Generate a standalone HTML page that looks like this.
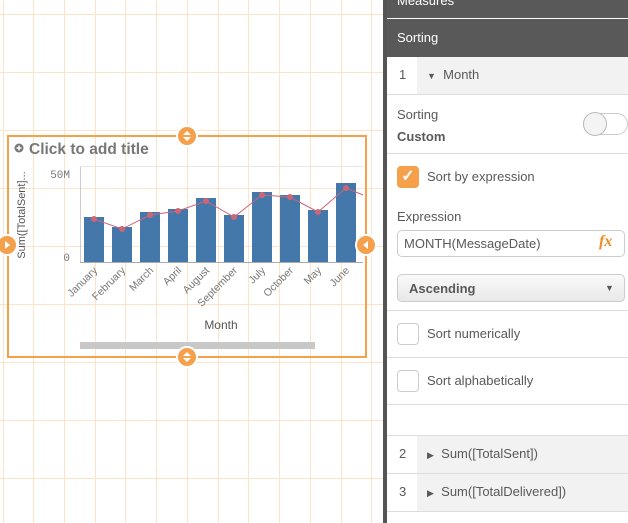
<!DOCTYPE html>
<html><head><style>
body{margin:0;width:628px;height:523px;overflow:hidden;font-family:"Liberation Sans",sans-serif;background:#fff;position:relative}
.a{position:absolute}
</style></head><body>
<svg class="a" style="left:0;top:0" width="383" height="523">
<g stroke="#fde3c8" stroke-width="1">
<line x1="3.5" y1="0" x2="3.5" y2="523"/><line x1="33.5" y1="0" x2="33.5" y2="523"/><line x1="64.5" y1="0" x2="64.5" y2="523"/><line x1="95.5" y1="0" x2="95.5" y2="523"/><line x1="125.5" y1="0" x2="125.5" y2="523"/><line x1="156.5" y1="0" x2="156.5" y2="523"/><line x1="187.5" y1="0" x2="187.5" y2="523"/><line x1="218.5" y1="0" x2="218.5" y2="523"/><line x1="248.5" y1="0" x2="248.5" y2="523"/><line x1="279.5" y1="0" x2="279.5" y2="523"/><line x1="310.5" y1="0" x2="310.5" y2="523"/><line x1="341.5" y1="0" x2="341.5" y2="523"/><line x1="371.5" y1="0" x2="371.5" y2="523"/>
<line x1="0" y1="14.5" x2="383" y2="14.5"/><line x1="0" y1="72.5" x2="383" y2="72.5"/><line x1="0" y1="130.5" x2="383" y2="130.5"/><line x1="0" y1="188.5" x2="383" y2="188.5"/><line x1="0" y1="246.5" x2="383" y2="246.5"/><line x1="0" y1="304.5" x2="383" y2="304.5"/><line x1="0" y1="362.5" x2="383" y2="362.5"/><line x1="0" y1="420.5" x2="383" y2="420.5"/><line x1="0" y1="478.5" x2="383" y2="478.5"/>
</g>
<rect x="8" y="136" width="358" height="221" fill="none" stroke="#f5a04a" stroke-width="2"/>
<circle cx="19" cy="148" r="4.5" fill="#777"/><path d="M16.5 148h5M19 145.5v5" stroke="#fff" stroke-width="1.5"/>
<text x="29" y="154" font-size="15.5" font-weight="bold" fill="#777">Click to add title</text>
<line x1="80.5" y1="166" x2="80.5" y2="262" stroke="#ccc"/>
<line x1="80" y1="166.5" x2="363" y2="166.5" stroke="#e8e8e8"/>
<line x1="80" y1="262.5" x2="363" y2="262.5" stroke="#aaa"/>
<text x="70" y="178" font-size="11" fill="#777" text-anchor="end" font-family="Liberation Mono">50M</text>
<text x="70" y="261" font-size="11" fill="#777" text-anchor="end" font-family="Liberation Mono">0</text>
<text transform="translate(25,215) rotate(-90)" font-size="11" fill="#555" text-anchor="middle">Sum([TotalSent]...</text>
<g fill="#4477aa">
<rect x="84" y="217" width="20" height="45"/><rect x="112" y="227" width="20" height="35"/><rect x="140" y="212" width="20" height="50"/><rect x="168" y="209" width="20" height="53"/><rect x="196" y="198" width="20" height="64"/><rect x="224" y="215" width="20" height="47"/><rect x="252" y="192" width="20" height="70"/><rect x="280" y="195" width="20" height="67"/><rect x="308" y="210" width="20" height="52"/><rect x="336" y="183" width="20" height="79"/>
</g>
<polyline points="94,219 122,229 150,215 178,211 206,201 234,217 262,195 290,197 318,212 346,188 363,195" fill="none" stroke="#cc6677" stroke-width="1"/>
<g fill="#cc6677"><circle cx="94" cy="219" r="3"/><circle cx="122" cy="229" r="3"/><circle cx="150" cy="215" r="3"/><circle cx="178" cy="211" r="3"/><circle cx="206" cy="201" r="3"/><circle cx="234" cy="217" r="3"/><circle cx="262" cy="195" r="3"/><circle cx="290" cy="197" r="3"/><circle cx="318" cy="212" r="3"/><circle cx="346" cy="188" r="3"/></g>
<g font-size="10.5" fill="#777" text-anchor="end">
<text transform="translate(98,271) rotate(-45)">January</text>
<text transform="translate(126,271) rotate(-45)">February</text>
<text transform="translate(154,271) rotate(-45)">March</text>
<text transform="translate(182,271) rotate(-45)">April</text>
<text transform="translate(210,271) rotate(-45)">August</text>
<text transform="translate(238,271) rotate(-45)">September</text>
<text transform="translate(266,271) rotate(-45)">July</text>
<text transform="translate(294,271) rotate(-45)">October</text>
<text transform="translate(322,271) rotate(-45)">May</text>
<text transform="translate(350,271) rotate(-45)">June</text>
</g>
<text x="221" y="329" font-size="12" fill="#555" text-anchor="middle">Month</text>
<rect x="80" y="342" width="235" height="7" fill="#c8c8c8"/>
<g fill="#f5a04a" stroke="#fff" stroke-width="2">
<circle cx="187" cy="136" r="10"/><circle cx="187" cy="357" r="10"/><circle cx="7" cy="245" r="10"/><circle cx="366" cy="245" r="10"/></g>
<g fill="#fff"><path d="M183 135l4-4 4 4zM183 137l4 4 4-4z"/><path d="M183 356l4-4 4 4zM183 358l4 4 4-4z"/><path d="M5 241l5 4-5 4z"/><path d="M368 241l-5 4 5 4z"/></g>
</svg>
<div class="a" style="left:383px;top:0;width:4px;height:523px;background:#555"></div>
<div class="a" style="left:387px;top:0;width:241px;height:523px;background:#fff;color:#595959;font-size:13px">
<div class="a" style="left:0;top:0;width:241px;height:18px;background:#595959;color:#fff"><span class="a" style="left:10px;top:-7px">Measures</span></div>
<div class="a" style="left:0;top:19px;width:241px;height:38px;background:#595959;color:#fff"><span class="a" style="left:10px;top:11px">Sorting</span></div>
<div class="a" style="left:30px;top:57px;width:211px;height:37px;background:#f2f2f2"></div>
<span class="a" style="left:12px;top:67px">1</span>
<span class="a" style="left:40px;top:67px"><span style="font-size:9px">▼</span>&nbsp; Month</span>
<div class="a" style="left:0;top:94px;width:241px;height:1px;background:#ddd"></div>
<span class="a" style="left:10px;top:107px">Sorting</span>
<span class="a" style="left:10px;top:129px;font-weight:bold">Custom</span>
<div class="a" style="left:196px;top:113px;width:45px;height:22px;border:1px solid #ccc;border-radius:12px;box-sizing:border-box"></div>
<div class="a" style="left:196px;top:112px;width:24px;height:24px;border-radius:50%;background:#f4f4f4;border:1px solid #bbb;box-sizing:border-box"></div>
<div class="a" style="left:0;top:153px;width:241px;height:1px;background:#ddd"></div>
<div class="a" style="left:10px;top:166px;width:22px;height:22px;border-radius:4px;background:#f5a04a;color:#fff;font-size:16px;line-height:22px;text-align:center;font-weight:bold">✓</div>
<span class="a" style="left:40px;top:169px">Sort by expression</span>
<span class="a" style="left:10px;top:209px">Expression</span>
<div class="a" style="left:10px;top:230px;width:228px;height:27px;border:1px solid #ccc;border-radius:5px;box-sizing:border-box"></div>
<span class="a" style="left:17px;top:236px">MONTH(MessageDate)</span>
<span class="a" style="left:212px;top:233px;color:#f08a24;font:italic bold 16px 'Liberation Serif',serif">fx</span>
<div class="a" style="left:10px;top:274px;width:228px;height:28px;border:1px solid #ccc;border-radius:5px;box-sizing:border-box;background:linear-gradient(#fafafa,#e8e8e8)"></div>
<span class="a" style="left:22px;top:281px;font-weight:bold">Ascending</span>
<span class="a" style="left:218px;top:283px;font-size:9px">▼</span>
<div class="a" style="left:0;top:310px;width:241px;height:1px;background:#ddd"></div>
<div class="a" style="left:10px;top:323px;width:22px;height:22px;border:1px solid #ccc;border-radius:4px;box-sizing:border-box"></div>
<span class="a" style="left:40px;top:326px">Sort numerically</span>
<div class="a" style="left:0;top:357px;width:241px;height:1px;background:#ddd"></div>
<div class="a" style="left:10px;top:370px;width:22px;height:22px;border:1px solid #ccc;border-radius:4px;box-sizing:border-box"></div>
<span class="a" style="left:40px;top:373px">Sort alphabetically</span>
<div class="a" style="left:0;top:404px;width:241px;height:1px;background:#ddd"></div>
<div class="a" style="left:0;top:435px;width:241px;height:1px;background:#ddd"></div>
<div class="a" style="left:30px;top:436px;width:211px;height:75px;background:#f2f2f2"></div>
<div class="a" style="left:0;top:473px;width:241px;height:1px;background:#ddd"></div>
<div class="a" style="left:0;top:511px;width:241px;height:1px;background:#ddd"></div>
<span class="a" style="left:12px;top:446px">2</span>
<span class="a" style="left:40px;top:446px"><span style="font-size:9px">▶</span>&nbsp; Sum([TotalSent])</span>
<span class="a" style="left:12px;top:484px">3</span>
<span class="a" style="left:40px;top:484px"><span style="font-size:9px">▶</span>&nbsp; Sum([TotalDelivered])</span>
</div>
</body></html>
